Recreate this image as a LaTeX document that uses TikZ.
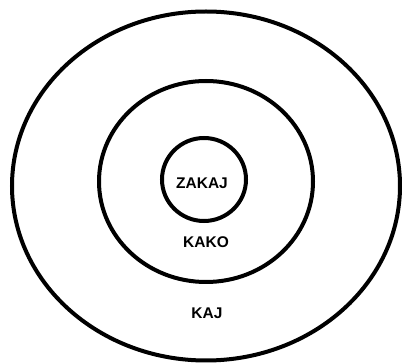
\documentclass[tikz,border=0pt]{standalone}
\usepackage{fontspec}
\setmainfont{Liberation Sans}
\usepackage{tikz}
\usetikzlibrary{positioning, shapes.geometric}

\begin{document}
\begin{tikzpicture}[x=1pt, y=-1pt, every node/.style={font=\fontsize{15.5}{18}\selectfont\bfseries}]
    \useasboundingbox (0,0) rectangle (402,363);

    \node [draw, ellipse, line width=4pt, inner sep=0pt, minimum width=388pt, minimum height=349pt] (kaj) at (206,186) {};
    \node [draw, ellipse, line width=4pt, inner sep=0pt, minimum width=214pt, minimum height=201pt] (kako) at (206,181.5) {};
    \node [draw, ellipse, line width=4pt, inner sep=0pt, minimum width=84pt, minimum height=83pt] (zakaj) at (204,179.5) {};

    \node (zakajlabel) at (202,183) {ZAKAJ};
    \node (kakolabel) at (206,242) {KAKO};
    \node (kajlabel) at (207,313) {KAJ};
\end{tikzpicture}
\end{document}
